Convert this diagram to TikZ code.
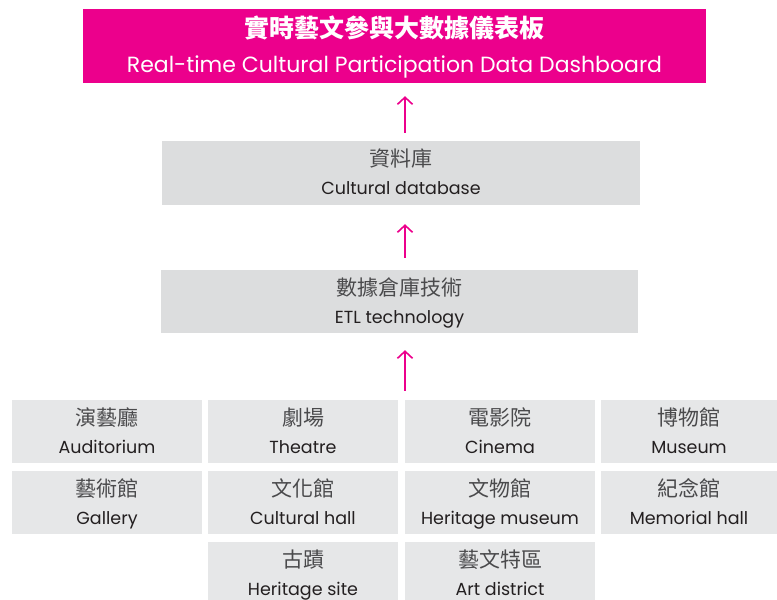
\documentclass[tikz,border=0pt]{standalone}
\usepackage{fontspec}
\setmainfont{Poppins}
\newfontfamily\cjk{Noto Sans CJK TC}
\usetikzlibrary{arrows.meta}
\definecolor{magenta}{HTML}{EC008C}
\definecolor{boxgray}{HTML}{DCDDDE}
\definecolor{cellgray}{HTML}{E6E7E8}
\definecolor{txt}{HTML}{231F20}
\definecolor{cjktxt}{HTML}{4A4A4C}
\newcommand{\toptxt}[2]{\rule{0pt}{#1pt}#2}
\newcommand{\bottxt}[2]{\rule[-#1pt]{0pt}{#1pt}#2}
\newcommand{\graycjk}[1]{{\cjk\color{cjktxt}\fontsize{21}{28}\selectfont #1}}
\tikzset{
  titlebox/.style={fill=magenta, text=white, minimum width=623pt, minimum height=74pt, align=center, inner sep=0pt, font=\fontsize{22}{35}\selectfont},
  midbox/.style={fill=boxgray, text=txt, minimum width=478pt, minimum height=64pt, align=center, inner sep=0pt, font=\fontsize{17.5}{28}\selectfont},
  cell/.style={fill=cellgray, text=txt, minimum width=190pt, minimum height=63pt, align=center, inner sep=0pt, font=\fontsize{17.5}{28}\selectfont},
  arr/.style={draw=magenta, line width=1.6pt, -{Straight Barb[length=7pt, width=15pt, line width=1.6pt]}},
}
\begin{document}
\begin{tikzpicture}[x=1pt, y=1pt]
\useasboundingbox (0,0) rectangle (777,600);
\begin{scope}
\clip (0,0) rectangle (777,600);
\node[titlebox] (title) at (394.5,554) {\toptxt{25}{{\cjk\bfseries\fontsize{25}{35}\selectfont 實時藝文參與大數據儀表板}}\\\bottxt{6}{Real-time Cultural Participation Data Dashboard}};
\node[midbox] (db) at (401,427) {\toptxt{21}{\graycjk{資料庫}}\\\bottxt{5}{Cultural database}};
\node[midbox, minimum width=477pt, minimum height=63pt] (etl) at (399.5,298.5) {\toptxt{21}{\graycjk{數據倉庫技術}}\\\bottxt{5}{ETL technology}};
\node[cell] (c11) at (107,168.5) {\toptxt{22}{\graycjk{演藝廳}}\\\bottxt{5}{Auditorium}};
\node[cell] (c12) at (303,168.5) {\toptxt{22}{\graycjk{劇場}}\\\bottxt{5}{Theatre}};
\node[cell] (c13) at (500,168.5) {\toptxt{22}{\graycjk{電影院}}\\\bottxt{5}{Cinema}};
\node[cell, minimum width=176pt] (c14) at (689,168.5) {\toptxt{22}{\graycjk{博物館}}\\\bottxt{5}{Museum}};
\node[cell] (c21) at (107,97.5) {\toptxt{22}{\graycjk{藝術館}}\\\bottxt{5}{Gallery}};
\node[cell] (c22) at (303,97.5) {\toptxt{22}{\graycjk{文化館}}\\\bottxt{5}{Cultural hall}};
\node[cell] (c23) at (500,97.5) {\toptxt{22}{\graycjk{文物館}}\\\bottxt{5}{Heritage museum}};
\node[cell, minimum width=176pt] (c24) at (689,97.5) {\toptxt{22}{\graycjk{紀念館}}\\\bottxt{5}{Memorial hall}};
\node[cell] (c32) at (303,26.5) {\toptxt{22}{\graycjk{古蹟}}\\\bottxt{5}{Heritage site}};
\node[cell] (c33) at (500,26.5) {\toptxt{22}{\graycjk{藝文特區}}\\\bottxt{5}{Art district}};
\end{scope}
\coordinate (ax) at (405,0);
\draw[arr, shorten <=8pt, shorten >=13pt] (db.north -| ax) -- (title.south -| ax);
\draw[arr, shorten <=12pt, shorten >=19pt] (etl.north -| ax) -- (db.south -| ax);
\draw[arr, shorten <=9pt, shorten >=17pt] (c13.north -| ax) -- (etl.south -| ax);
\end{tikzpicture}
\end{document}
